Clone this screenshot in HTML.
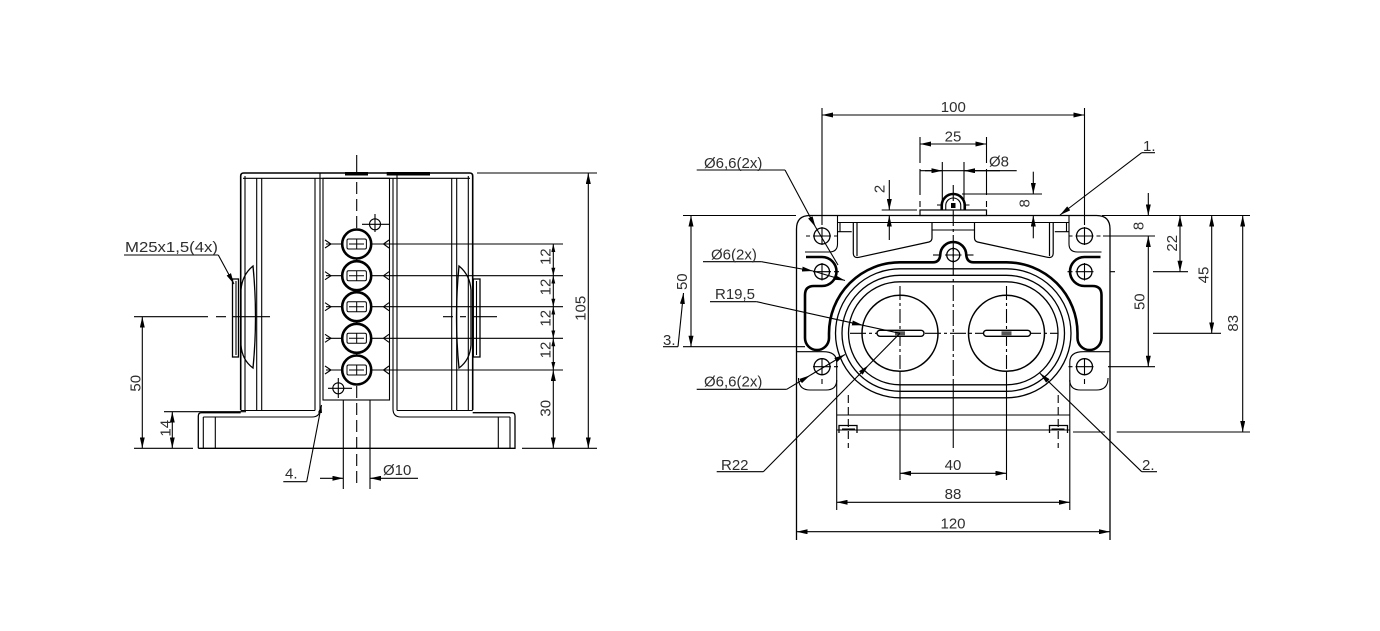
<!DOCTYPE html>
<html><head><meta charset="utf-8">
<style>
html,body{margin:0;padding:0;background:#fff;}
svg{display:block;}
text{font-family:"Liberation Sans",sans-serif;font-size:15px;fill:#2e2e2e;stroke:none;}
</style></head><body>
<svg width="1380" height="631" viewBox="0 0 1380 631" xmlns="http://www.w3.org/2000/svg">
<defs>
<marker id="a" viewBox="0 0 11 5" refX="11" refY="2.5" markerWidth="11" markerHeight="5" markerUnits="userSpaceOnUse" orient="auto-start-reverse"><path d="M0,0L11,2.5L0,5z" fill="#000"/></marker>
<marker id="b" viewBox="0 0 8 4" refX="8" refY="2" markerWidth="8" markerHeight="4" markerUnits="userSpaceOnUse" orient="auto-start-reverse"><path d="M0,0L8,2L0,4z" fill="#000"/></marker>
</defs>
<rect width="1380" height="631" fill="#fff"/>

<!-- ================= LEFT VIEW ================= -->
<g fill="none" stroke="#000" stroke-width="1.1">
<path d="M240.7,410 V176 Q240.7,173 243.7,173 H469.7 Q472.7,173 472.7,176 V410" stroke-width="1.6"/>
<path d="M243,178.3 H470"/>
<path d="M245,176 V410 M256.7,178.3 V410 M261.7,178.3 V410 M315,178.3 V410.5 M320,173 V409 Q320,417 312,417"/>
<rect x="323" y="178.3" width="66.5" height="221.7"/>
<path d="M393,178.3 V409 Q393,417 401,417 M397,173 V410.5"/>
<path d="M451.7,178.3 V410 M456.7,178.3 V410 M468.3,176 V410"/>
<path d="M240.7,410.5 H315 M397,410.5 H472.7"/>
<!-- base -->
<path d="M198.3,448.3 V416 Q198.3,412.7 201.6,412.7 H240.7 M472.7,412.7 H511.7 Q515,412.7 515,416 V448.3 H198.3" stroke-width="1.3"/>
<path d="M203.3,417 H312 M401,417 H510 M203.3,417 V448.3 M215.3,417 V448.3 M498.3,417 V448.3 M510,417 V448.3"/>
<!-- top bars -->
<rect x="345" y="172" width="23" height="3.5" fill="#000" stroke="none"/>
<rect x="386.7" y="172" width="43.3" height="3.5" fill="#000" stroke="none"/>
<!-- center line -->
<path d="M356.7,155 V173"/>
<path d="M356.7,182 V487" stroke-dasharray="12 5"/>
<!-- rows -->
<path d="M326,244 H563 M326,275.7 H563 M326,306.7 H563 M326,338.3 H563 M326,370 H563"/>
<g stroke-width="2.6" fill="#fff">
<circle cx="356.7" cy="244" r="14.5"/>
<circle cx="356.7" cy="275.7" r="14.5"/>
<circle cx="356.7" cy="306.7" r="14.5"/>
<circle cx="356.7" cy="338.3" r="14.5"/>
<circle cx="356.7" cy="370" r="14.5"/>
</g>
<g stroke-width="1">
<rect x="347" y="239" width="19.4" height="10" rx="1.5"/><path d="M349,244 H364 M356.7,239 V249"/>
<rect x="347" y="270.7" width="19.4" height="10" rx="1.5"/><path d="M349,275.7 H364 M356.7,270.7 V280.7"/>
<rect x="347" y="301.7" width="19.4" height="10" rx="1.5"/><path d="M349,306.7 H364 M356.7,301.7 V311.7"/>
<rect x="347" y="333.3" width="19.4" height="10" rx="1.5"/><path d="M349,338.3 H364 M356.7,333.3 V343.3"/>
<rect x="347" y="365" width="19.4" height="10" rx="1.5"/><path d="M349,370 H364 M356.7,365 V375"/>
</g>
<path d="M325,240 L331,244 L325,248 M325,271.7 L331,275.7 L325,279.7 M325,302.7 L331,306.7 L325,310.7 M325,334.3 L331,338.3 L325,342.3 M325,366 L331,370 L325,374"/>
<path d="M389,240 L383.5,244 L389,248 M389,271.7 L383.5,275.7 L389,279.7 M389,302.7 L383.5,306.7 L389,310.7 M389,334.3 L383.5,338.3 L389,342.3 M389,366 L383.5,370 L389,374"/>
<!-- small crosshairs -->
<circle cx="375" cy="224.3" r="5.5"/><path d="M362,224.3 H390 M375,214 V232"/>
<circle cx="338.3" cy="388.3" r="5.5"/><path d="M328,388.3 H352 M338.3,378 V398"/>
<!-- glands -->
<path d="M253,266 Q242,275 241,290 L241,345 Q242,360 253,368 Q258,317 253,266 Z" stroke-width="1.3"/>
<rect x="232.5" y="279" width="6" height="78" stroke-width="1.3"/><path d="M236,281 V355"/>
<path d="M459,266 Q470,275 471,290 L471,345 Q470,360 459,368 Q454,317 459,266 Z" stroke-width="1.3"/>
<rect x="473.3" y="279" width="6.7" height="78" stroke-width="1.3"/><path d="M476.5,281 V355"/>
<!-- horizontal centerline -->
<path d="M134,316.7 H208 M216,316.7 H226 M232,316.7 H270 M443,316.7 H453 M460,316.7 H466 M473,316.7 H497"/>
<!-- dims -->
<path d="M477,173 H597 M522,448.3 H597"/>
<path d="M588.3,173 V448.3" marker-start="url(#a)" marker-end="url(#a)"/>
<path d="M553.3,244 V275.7" marker-start="url(#b)" marker-end="url(#b)"/>
<path d="M553.3,275.7 V306.7" marker-start="url(#b)" marker-end="url(#b)"/>
<path d="M553.3,306.7 V338.3" marker-start="url(#b)" marker-end="url(#b)"/>
<path d="M553.3,338.3 V370" marker-start="url(#b)" marker-end="url(#b)"/>
<path d="M553.3,370 V448.3" marker-start="url(#a)" marker-end="url(#a)"/>
<path d="M134,448.3 H193"/>
<path d="M142.3,316.7 V448.3" marker-start="url(#a)" marker-end="url(#a)"/>
<path d="M164,411.7 H246"/>
<path d="M172.3,411.7 V448.3" marker-start="url(#a)" marker-end="url(#a)"/>
<path d="M343.3,400 V489 M370,400 V489"/>
<path d="M320,478.3 H343.3" marker-end="url(#a)"/>
<path d="M418,478.3 H370" marker-end="url(#a)"/>
<!-- leaders -->
<path d="M124,255 H218.3"/>
<path d="M218.3,255 L234,284" marker-end="url(#a)"/>
<path d="M283.3,481.7 H306.7"/>
<path d="M306.7,481.7 L321.5,405" marker-end="url(#b)"/>
</g>
<text x="125" y="252" textLength="93" lengthAdjust="spacingAndGlyphs">M25x1,5(4x)</text>
<text transform="translate(135,383.3) rotate(-90)" text-anchor="middle" dy="5.4">50</text>
<text transform="translate(165,428.3) rotate(-90)" text-anchor="middle" dy="5.4">14</text>
<text x="285" y="478.5">4.</text>
<text x="383" y="475">Ø10</text>
<text transform="translate(545,256.7) rotate(-90)" text-anchor="middle" dy="5.4">12</text>
<text transform="translate(545,287) rotate(-90)" text-anchor="middle" dy="5.4">12</text>
<text transform="translate(545,318.3) rotate(-90)" text-anchor="middle" dy="5.4">12</text>
<text transform="translate(545,350) rotate(-90)" text-anchor="middle" dy="5.4">12</text>
<text transform="translate(545,408.3) rotate(-90)" text-anchor="middle" dy="5.4">30</text>
<text transform="translate(580,308.3) rotate(-90)" text-anchor="middle" dy="5.4">105</text>

<!-- ================= RIGHT VIEW ================= -->
<g fill="none" stroke="#000" stroke-width="1.1">
<g id="rh">
<path d="M796.5,540 V229 Q796.5,215.5 810,215.5 H953.25" stroke-width="1.3"/>
<path d="M838,222.5 H953.25"/>
<path d="M837.5,215.5 V244 Q837.5,252 829,252 H805"/>
<path d="M837.5,231.7 H851.7 M840,222.5 V231.7"/>
<circle cx="822" cy="236" r="8" stroke-width="1.3"/>
<path d="M813,236 H831 M822,227 V245 M806,236 H810 M834,236 H838"/>
<circle cx="822" cy="271.7" r="7.5" stroke-width="1.3"/>
<path d="M813,271.7 H831 M822,263 V280.5 M834,271.7 H839"/>
<path d="M796.5,351.7 H823 Q836.7,351.7 836.7,362 V510"/>
<path d="M798.5,378 Q798.5,390 810,390 H826 Q836.7,390 836.7,380"/>
<circle cx="822" cy="366.7" r="8" stroke-width="1.3"/>
<path d="M813,366.7 H831 M822,358 V375.5 M834,366.7 H838 M822,379 V384"/>
<path d="M853.3,222.5 V253 Q853.3,258.5 859,257.3 L929,242 Q932,241 932,238 V222.5 M857,223 V256" stroke-width="1.2"/>
<path d="M932,230 H953.25"/>
<path d="M933,255 H941.5"/>
<path d="M839,433 V425.5 H857 V433" stroke-width="1.3"/>
<path d="M842,429 H855"/>
<path d="M836.7,415 H953.25 M836.7,430 H953.25"/>
<path d="M848.3,395 V448" stroke-dasharray="8 4"/>
</g>
<use href="#rh" transform="translate(1906.5,0) scale(-1,1)"/>

<!-- thick contour -->
<path d="M806,257 L822,257 A14.5,14.5 0 0 1 822,286 L814,286 Q805,286 805,295 L805,338 A12,12 0 0 0 829,338 L829,333.3 A71,71 0 0 1 900,262.3 L933,262.3 Q939.5,262.3 940.25,255 A13,13 0 0 1 966.25,255 Q967,262.3 973.5,262.3 L1006.5,262.3 A71,71 0 0 1 1077.5,333.3 L1077.5,338 A12,12 0 0 0 1101.5,338 L1101.5,295 Q1101.5,286 1092.5,286 L1084.5,286 A14.5,14.5 0 0 1 1084.5,257 L1100.5,257" stroke-width="2.6"/>
<!-- rings -->
<path d="M900,281.8 H1006.5 A51.5,51.5 0 0 1 1006.5,384.8 H900 A51.5,51.5 0 0 1 900,281.8 Z" stroke-width="1.3"/>
<path d="M900,275.3 H1006.5 A58,58 0 0 1 1006.5,391.3 H900 A58,58 0 0 1 900,275.3 Z" stroke-width="1.3"/>
<path d="M900,268.8 H1006.5 A64.5,64.5 0 0 1 1006.5,397.8 H900 A64.5,64.5 0 0 1 900,268.8 Z" stroke-width="1.3"/>
<!-- circles -->
<circle cx="900" cy="333.3" r="38" stroke-width="1.5" fill="#fff"/>
<circle cx="1006.5" cy="333.3" r="38" stroke-width="1.5" fill="#fff"/>
<!-- center lines -->
<path d="M850,333.3 H1058" stroke-dasharray="16 3 3 3"/>
<path d="M900,286 V372 M1006.5,286 V372" stroke-dasharray="14 3 3 3"/>
<path d="M900,372 V480 M1006.5,372 V480"/>
<path d="M953.25,185 V380" stroke-dasharray="16 3 3 3"/>
<path d="M953.25,380 V448"/>
<!-- slots -->
<rect x="877" y="330.3" width="47" height="6" rx="3" stroke-width="1.4" fill="#fff"/>
<rect x="983.5" y="330.3" width="47" height="6" rx="3" stroke-width="1.4" fill="#fff"/>
<rect x="895" y="331.3" width="10" height="4" fill="#555" stroke="none"/>
<rect x="1001.5" y="331.3" width="10" height="4" fill="#555" stroke="none"/>
<!-- center hole -->
<circle cx="953.25" cy="255" r="6.5" stroke-width="1.3"/>
<path d="M945,255 H961.5 M953.25,247 V263"/>
<!-- actuator -->
<rect x="920" y="210" width="66.5" height="5.5" stroke-width="1.2"/>
<path d="M941.75,210 V205.5 A11.5,11.5 0 0 1 964.75,205.5 V210" stroke-width="2.6"/>
<path d="M945.75,210 V205.5 A7.5,7.5 0 0 1 960.75,205.5 V210"/>
<rect x="951" y="203" width="4.5" height="5" fill="#000" stroke="none"/>
<path d="M937,205 H941 M965.5,205 H969.5"/>

<!-- dimensions right view -->
<path d="M822,108 V225 M1084.5,108 V225"/>
<path d="M822,115 H1084.5" marker-start="url(#a)" marker-end="url(#a)"/>
<path d="M920,137 V207 M986.5,137 V207" stroke-dasharray="26 6"/>
<path d="M920,144 H986.5" marker-start="url(#a)" marker-end="url(#a)"/>
<path d="M942.3,162 V201 M964,162 V201"/>
<path d="M920,170.7 H1016.7"/>
<path d="M925,170.7 H942.3" marker-end="url(#a)"/>
<path d="M1000,170.7 H964" marker-end="url(#a)"/>
<path d="M881.7,210 H917"/>
<path d="M889.3,180 V210" marker-end="url(#a)"/>
<path d="M889.3,240 V215.5" marker-end="url(#a)"/>
<path d="M962,194 H1042"/>
<path d="M1033.3,171.7 V194" marker-end="url(#a)"/>
<path d="M1033.3,238.3 V215.5" marker-end="url(#a)"/>
<!-- right side dims -->
<path d="M1102,215.5 H1250 M1103,236 H1155 M1110,271.7 H1115 M1153,271.7 H1188 M1153,333.3 H1221 M1108,366.7 H1155 M1073,432 H1105 M1116.7,432 H1250"/>
<path d="M1148.3,193 V215.5" marker-end="url(#a)"/>
<path d="M1148.3,236 V366.7" marker-start="url(#a)" marker-end="url(#a)"/>
<path d="M1180,215.5 V271.7" marker-start="url(#a)" marker-end="url(#a)"/>
<path d="M1211.7,215.5 V333.3" marker-start="url(#a)" marker-end="url(#a)"/>
<path d="M1242.7,215.5 V432" marker-start="url(#a)" marker-end="url(#a)"/>
<!-- left side dim -->
<path d="M683,215.5 H796 M683,346.7 H805"/>
<path d="M691,215.5 V346.7" marker-start="url(#a)" marker-end="url(#a)"/>
<!-- bottom dims -->
<path d="M900,473.3 H1006.5" marker-start="url(#a)" marker-end="url(#a)"/>
<path d="M836.7,502.3 H1069.8" marker-start="url(#a)" marker-end="url(#a)"/>
<path d="M796.5,531.7 H1110" marker-start="url(#a)" marker-end="url(#a)"/>
<!-- leaders -->
<path d="M696.7,170 H785"/>
<path d="M785,170 L815.5,227" marker-end="url(#a)"/>
<path d="M815.5,227 L838,265"/>
<path d="M703,261.7 H761.7"/>
<path d="M761.7,261.7 L813,271" marker-end="url(#a)"/>
<path d="M813,271 L845,280.5" marker-end="url(#a)"/>
<path d="M710,301.7 H756.7"/>
<path d="M756.7,301.7 L863,325.3" marker-end="url(#a)"/>
<path d="M863,325.3 L900,333.3"/>
<path d="M696.7,389.3 H786.7"/>
<path d="M786.7,389.3 L810,375.4" marker-end="url(#a)"/>
<path d="M810,375.4 L845,354.5" marker-end="url(#a)"/>
<path d="M716.7,471.7 H763.3"/>
<path d="M763.3,471.7 L868.5,365.2" marker-end="url(#a)"/>
<path d="M868.5,365.2 L900,333.3"/>
<path d="M1141.7,471.7 H1157"/>
<path d="M1141.7,471.7 L1040,373.3" marker-end="url(#a)"/>
<path d="M1141.7,152.7 H1155"/>
<path d="M1141.7,152.7 L1060,215" marker-end="url(#a)"/>
<path d="M663,346.7 H678"/>
<path d="M678,346.7 L683.5,293" marker-end="url(#a)"/>
</g>
<text x="953.3" y="112" text-anchor="middle">100</text>
<text x="953" y="141.5" text-anchor="middle">25</text>
<text x="989" y="166.7">Ø8</text>
<text transform="translate(879.3,189) rotate(-90)" text-anchor="middle" dy="5.4">2</text>
<text transform="translate(1024.3,203.3) rotate(-90)" text-anchor="middle" dy="5.4">8</text>
<text x="1143" y="151">1.</text>
<text x="704" y="168">Ø6,6(2x)</text>
<text x="711" y="259.5">Ø6(2x)</text>
<text transform="translate(681.7,281.7) rotate(-90)" text-anchor="middle" dy="5.4">50</text>
<text x="663" y="345">3.</text>
<text x="715" y="299">R19,5</text>
<text x="704" y="386.5">Ø6,6(2x)</text>
<text x="721" y="470">R22</text>
<text x="1142" y="470">2.</text>
<text x="953" y="470" text-anchor="middle">40</text>
<text x="953" y="499" text-anchor="middle">88</text>
<text x="953" y="528.5" text-anchor="middle">120</text>
<text transform="translate(1138.3,226) rotate(-90)" text-anchor="middle" dy="5.4">8</text>
<text transform="translate(1171.7,243.3) rotate(-90)" text-anchor="middle" dy="5.4">22</text>
<text transform="translate(1203.3,275) rotate(-90)" text-anchor="middle" dy="5.4">45</text>
<text transform="translate(1139.3,301.7) rotate(-90)" text-anchor="middle" dy="5.4">50</text>
<text transform="translate(1232.7,323.3) rotate(-90)" text-anchor="middle" dy="5.4">83</text>
</svg>
</body></html>
